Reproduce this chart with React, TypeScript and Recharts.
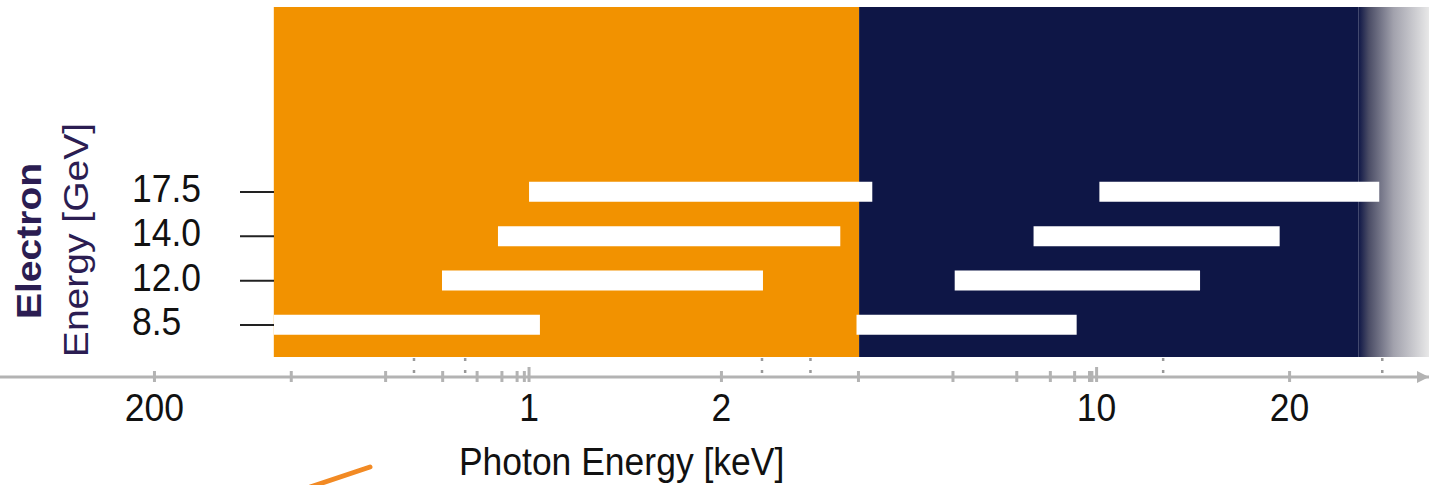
import { BarChart, Bar, XAxis, YAxis, ReferenceArea } from 'recharts';

const COLORS = {
    orange: '#f29200',
    navy: '#0e1646',
    purple: '#2b1d52',
    axis: '#b3b3b3',
    tick: '#222222',
};

const FONT = '"Liberation Sans", Arial, sans-serif';
const FONT_SIZE = 35.5;
// the source slide is a little taller than it is wide
const STRETCH = 'scale(1 1.1)';

// rows, top to bottom
const ELECTRON_GEV = ['17.5', '14.0', '12.0', '8.5'];
const SOFT_START_KEV = [1.0, 0.875, 0.688, 0.334];
const SOFT_END_KEV = [3.82, 3.33, 2.39, 1.04];
const HARD_START_KEV = [10.1, 7.63, 5.44, 3.57];
const HARD_END_KEV = [27.6, 19.3, 14.5, 9.18];

const SOFT_BAND_KEV = [0.334, 3.61];
const HARD_BAND_KEV = [3.61, 25.6];
const AXIS_KEV = [0.103, 33];

const MAJOR_TICK_KEV = [0.2, 1, 2, 10, 20];
const MAJOR_TICK_LABELS = ['200', '1', '2', '10', '20'];
// the drawn axis is only roughly logarithmic: labelled ticks sit at these offsets (decades from 1 keV)
const MAJOR_TICK_POS = [-0.66, 0, 0.339, 1, 1.34];
const MINOR_TICK_KEV = [0.36, 0.54, 0.69, 0.8, 0.89, 0.95, 0.98, 3.6, 5.4, 7.1, 8.2, 9.1, 9.7, 9.8];
const DOTTED_TICK_KEV = [0.61, 0.76, 2.38, 2.93, 12.7, 27.9];

// vertical room in row units (row 0 = top row)
const ROW_DOMAIN = [-4.173, 4.173];
const BAND_BOTTOM_ROW = 3.722;

const LOG_ANCHORS = MAJOR_TICK_KEV.map((v) => Math.log10(v));

function toAxis(kev: number) {
    const l = Math.log10(kev);
    let i = 0;
    while (i < LOG_ANCHORS.length - 2 && l > LOG_ANCHORS[i + 1]) i++;
    const f = (l - LOG_ANCHORS[i]) / (LOG_ANCHORS[i + 1] - LOG_ANCHORS[i]);
    return MAJOR_TICK_POS[i] + f * (MAJOR_TICK_POS[i + 1] - MAJOR_TICK_POS[i]);
}

const rows = ELECTRON_GEV.map((gev, i) => ({
    gev,
    row: i,
    soft: [toAxis(SOFT_START_KEV[i]), toAxis(SOFT_END_KEV[i])],
    hard: [toAxis(HARD_START_KEV[i]), toAxis(HARD_END_KEV[i])],
}));

const tickList = [
    ...MAJOR_TICK_KEV.map((kev, i) => ({ u: toAxis(kev), kind: 'major', label: MAJOR_TICK_LABELS[i], tall: Number.isInteger(Math.log10(kev)) })),
    ...MINOR_TICK_KEV.map((kev) => ({ u: toAxis(kev), kind: 'minor', label: '', tall: false })),
    ...DOTTED_TICK_KEV.map((kev) => ({ u: toAxis(kev), kind: 'dotted', label: '', tall: false })),
];

function SlideText({ x, y, anchor = 'start', children }: { x: number; y: number; anchor?: string; children: any }) {
    return (
        <text transform={`translate(${x} ${y}) ${STRETCH}`} textAnchor={anchor} fontSize={FONT_SIZE} fill="#111" fontFamily={FONT}>
            {children}
        </text>
    );
}

function XTick(props: any) {
    const { x, y, payload } = props;
    const t = tickList.find((d) => Math.abs(d.u - payload.value) < 1e-9);
    if (!t) return null;
    if (t.kind === 'dotted') {
        return <line x1={x} x2={x} y1={y - 19} y2={y - 4} stroke="#999" strokeWidth={2.5} strokeDasharray="3 9" />;
    }
    return (
        <g>
            <line x1={x} x2={x} y1={y - (t.tall ? 10 : 6)} y2={y + 5} stroke={COLORS.axis} strokeWidth={3} />
            {t.label && (
                <SlideText x={x} y={y + 44} anchor="middle">
                    {t.label}
                </SlideText>
            )}
        </g>
    );
}

function YTick(props: any) {
    const { y, payload } = props;
    const row = rows.find((r) => r.row === payload.value);
    if (!row) return null;
    return (
        <g>
            <line x1={240} x2={274} y1={y} y2={y} stroke={COLORS.tick} strokeWidth={2} />
            <SlideText x={132} y={y + 10}>
                {row.gev}
            </SlideText>
        </g>
    );
}

function XTitle(props: any) {
    const { viewBox } = props;
    return (
        <SlideText x={viewBox.x + viewBox.width * 0.435} y={viewBox.y + 98} anchor="middle">
            Photon Energy [keV]
        </SlideText>
    );
}

export default function App() {
    return (
        <div style={{ position: 'absolute', left: 0, top: 0, background: '#fff' }}>
            <BarChart
                width={1429}
                height={485}
                data={rows}
                layout="vertical"
                barGap={-20}
                margin={{ top: 7, right: 0, bottom: 0, left: 0 }}
                style={{ fontFamily: FONT }}
            >
                <defs>
                    <linearGradient id="fade" x1="0" y1="0" x2="1" y2="0">
                        <stop offset="0" stopColor={COLORS.navy} />
                        <stop offset="0.15" stopColor="#4b4d66" />
                        <stop offset="0.5" stopColor="#a2a2ad" />
                        <stop offset="1" stopColor="#e8e8e8" />
                    </linearGradient>
                    <marker id="axisArrow" viewBox="0 0 12 12" markerWidth={12} markerHeight={12} refX={12} refY={6} orient="auto" markerUnits="userSpaceOnUse">
                        <path d="M0,0 L12,6 L0,12 z" fill={COLORS.axis} />
                    </marker>
                </defs>
                <XAxis
                    type="number"
                    domain={[toAxis(AXIS_KEV[0]), toAxis(AXIS_KEV[1])]}
                    allowDataOverflow
                    ticks={tickList.map((t) => t.u)}
                    interval={0}
                    tick={<XTick />}
                    tickLine={false}
                    tickSize={0}
                    tickMargin={0}
                    axisLine={{ stroke: COLORS.axis, strokeWidth: 3, markerEnd: 'url(#axisArrow)' }}
                    height={108}
                    label={{ content: XTitle }}
                />
                <YAxis
                    dataKey="row"
                    type="number"
                    domain={ROW_DOMAIN}
                    allowDataOverflow
                    ticks={rows.map((r) => r.row)}
                    interval={0}
                    mirror
                    axisLine={false}
                    tickLine={false}
                    tick={<YTick />}
                />
                <ReferenceArea x1={toAxis(SOFT_BAND_KEV[0])} x2={toAxis(SOFT_BAND_KEV[1])} y1={ROW_DOMAIN[0]} y2={BAND_BOTTOM_ROW} fill={COLORS.orange} fillOpacity={1} />
                <ReferenceArea x1={toAxis(HARD_BAND_KEV[0])} x2={toAxis(HARD_BAND_KEV[1])} y1={ROW_DOMAIN[0]} y2={BAND_BOTTOM_ROW} fill={COLORS.navy} fillOpacity={1} />
                <ReferenceArea x1={toAxis(HARD_BAND_KEV[1])} y1={ROW_DOMAIN[0]} y2={BAND_BOTTOM_ROW} fill="url(#fade)" fillOpacity={1} />
                <Bar dataKey="soft" fill="#ffffff" barSize={20} isAnimationActive={false} />
                <Bar dataKey="hard" fill="#ffffff" barSize={20} isAnimationActive={false} />
                <g fill={COLORS.purple} fontFamily={FONT} fontSize={FONT_SIZE} textAnchor="middle">
                    <text transform={`translate(41 241) ${STRETCH} rotate(-90)`} fontWeight={700}>
                        Electron
                    </text>
                    <text transform={`translate(88 240) ${STRETCH} rotate(-90)`}>Energy [GeV]</text>
                </g>
                <line x1={310} y1={487} x2={370} y2={467} stroke="#f28a24" strokeWidth={5} strokeLinecap="round" />
            </BarChart>
        </div>
    );
}
